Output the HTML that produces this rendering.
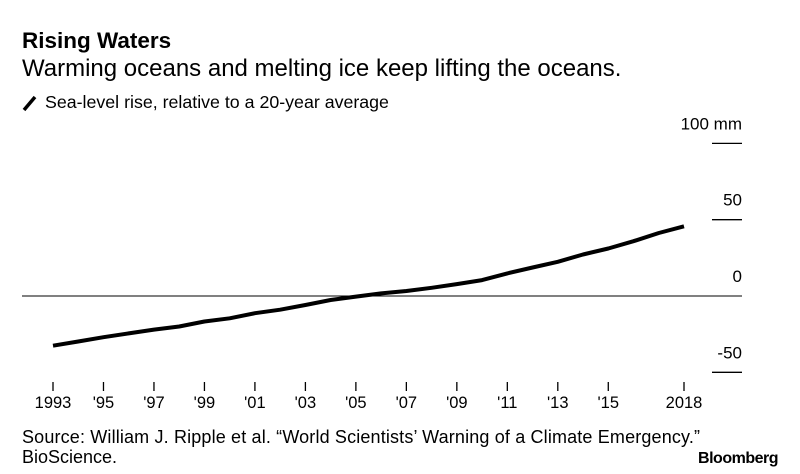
<!DOCTYPE html>
<html><head><meta charset="utf-8"><style>
body{margin:0;width:800px;height:474px;background:#fff;overflow:hidden;font-family:"Liberation Sans",sans-serif;color:#000}
svg{position:absolute;left:0;top:0}
</style></head><body>
<svg width="800" height="474">
<text x="22" y="48" font-size="22.5" font-weight="bold">Rising Waters</text>
<text x="22" y="76" font-size="24">Warming oceans and melting ice keep lifting the oceans.</text>
<line x1="24" y1="110" x2="35" y2="97" stroke="#000" stroke-width="3.5"/>
<text x="45" y="108" font-size="17.8">Sea-level rise, relative to a 20-year average</text>
<g id="axes"></g>
<path id="line" fill="none" stroke="#000" stroke-width="4" stroke-linejoin="round"/>
<text x="22" y="443" font-size="18" textLength="678">Source: William J. Ripple et al. “World Scientists’ Warning of a Climate Emergency.”</text>
<text x="22" y="463" font-size="18">BioScience.</text>
<text x="778" y="463" font-size="16" font-weight="bold" text-anchor="end" letter-spacing="-0.5">Bloomberg</text>
</svg>
<script>
const years=[1993,1994,1995,1996,1997,1998,1999,2000,2001,2002,2003,2004,2005,2006,2007,2008,2009,2010,2011,2012,2013,2014,2015,2016,2017,2018];
const values=[-32.6,-29.8,-27,-24.5,-22,-20,-16.7,-14.6,-11.3,-9,-5.9,-2.6,-0.4,1.7,3.3,5.4,7.8,10.4,14.8,18.7,22.4,27.2,31.1,35.9,41.3,45.7];
const yTicks=[100,50,0,-50];
const yTickLabels=["100 mm","50","0","-50"];
const xTicks=[1993,1995,1997,1999,2001,2003,2005,2007,2009,2011,2013,2015,2018];
const xTickLabels=["1993","'95","'97","'99","'01","'03","'05","'07","'09","'11","'13","'15","2018"];
const X=v=>53+(v-1993)*(684-53)/25;
const Y=v=>296-v*1.526;
const NS="http://www.w3.org/2000/svg";
const g=document.getElementById('axes');
function mk(t,a){const e=document.createElementNS(NS,t);for(const k in a)e.setAttribute(k,a[k]);g.appendChild(e);return e;}
yTicks.forEach((v,i)=>{
  const l=mk('line',{x1:v===0?22:712,x2:742,y1:Y(v),y2:Y(v),stroke:'#000','stroke-width':v===0?1:1.3});
  
  
  const t=mk('text',{x:742,y:Y(v)-14,'font-size':17,'text-anchor':'end'});
  t.textContent=yTickLabels[i];
  
  
});
xTicks.forEach((v,i)=>{
  const l=mk('line',{x1:X(v),x2:X(v),y1:382,y2:391,stroke:'#000','stroke-width':1.3});
  
  
  const t=mk('text',{x:X(v),y:408,'font-size':16.5,'text-anchor':'middle'});
  t.textContent=xTickLabels[i];
  
  
});
document.getElementById('line').setAttribute('d',years.map((y,i)=>(i?'L':'M')+X(y).toFixed(1)+','+Y(values[i]).toFixed(1)).join(''));
</script>
</body></html>
